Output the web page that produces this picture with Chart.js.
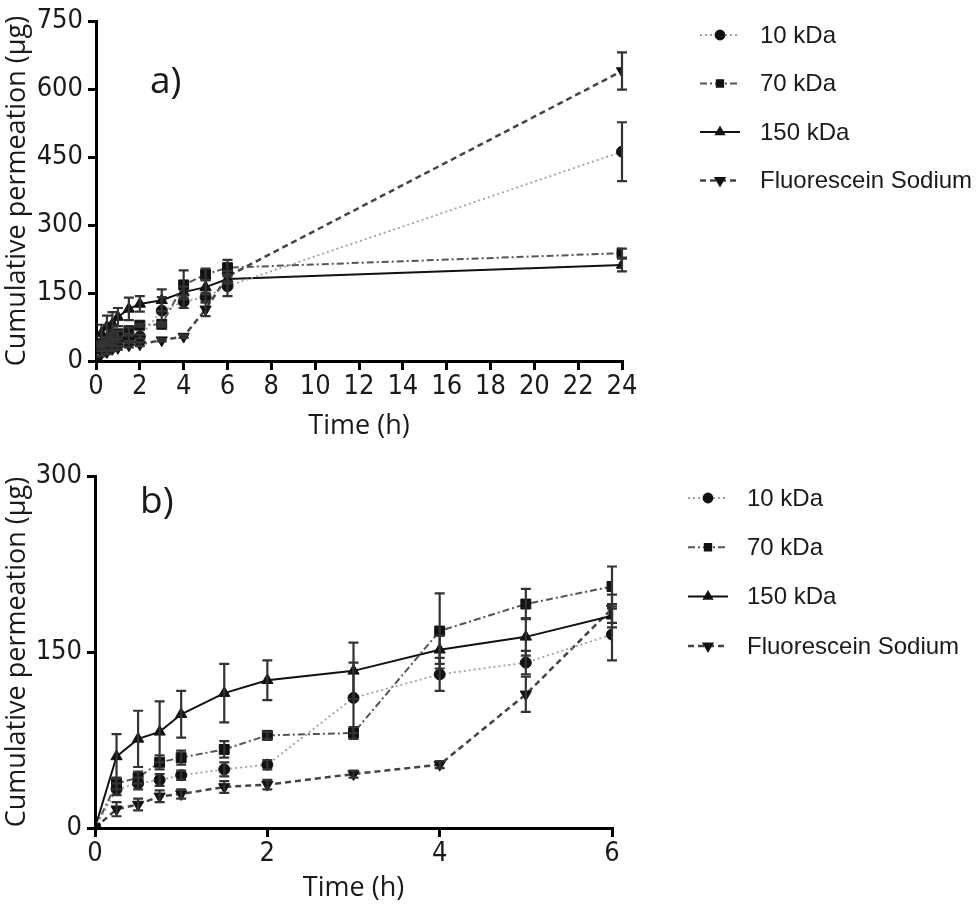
<!DOCTYPE html>
<html>
<head>
<meta charset="utf-8">
<script src="https://cdn.jsdelivr.net/npm/chart.js@4.4.1/dist/chart.umd.min.js"></script>
<style>
  html, body { margin: 0; padding: 0; background: #fff; }
  #wrap { position: relative; width: 980px; height: 913px; background: #fff; }
  canvas { position: absolute; left: 0; }
</style>
</head>
<body>
<div id="wrap">
  <canvas id="ca" width="980" height="455" style="top:0"></canvas>
  <canvas id="cb" width="980" height="458" style="top:455px"></canvas>
</div>
<script>
// ---- data ----
const times    = [0, 0.25, 0.5, 0.75, 1, 1.5, 2, 3, 4, 5, 6, 24];
const kda10    = [0, 33, 38, 41, 45, 50, 54, 111, 131, 141, 165, 462];
const kda10Err = [0, 5, 5, 5, 4, 6, 4, 30, 14, 10, 22, 65];
const kda70    = [0, 38, 43, 56, 60, 67, 79, 81, 168, 191, 206, 238];
const kda70Err = [0, 5, 5, 6, 6, 7, 3, 5, 32, 13, 17, 10];
const kda150   = [0, 61, 76, 82, 97, 115, 126, 134, 152, 163, 181, 212];
const kda150Err= [0, 19, 24, 26, 20, 25, 17, 24, 12, 16, 10, 14];
const fluo     = [0, 16, 20, 27, 29, 35, 37, 46, 54, 114, 187, 640];
const fluoErr  = [0, 6, 5, 5, 4, 5, 4, 3, 3, 15, 12, 41];
const seriesLabels = ['10 kDa', '70 kDa', '150 kDa', 'Fluorescein Sodium'];
const xTicksA = [0, 24, 2];   // min, max, step
const yTicksA = [0, 750, 150];
const xTicksB = [0, 6, 2];
const yTicksB = [0, 300, 150];
const yTitle = 'Cumulative permeation (µg)';
const xTitle = 'Time (h)';

const TICK_FONT = "'Liberation Sans Narrow', 'Arial Narrow', 'DejaVu Sans Condensed', sans-serif";
const TITLE_FONT = "'Open Sans', 'Liberation Sans', sans-serif";
const LEGEND_FONT = "'Liberation Sans', Arial, sans-serif";

function pts(vals, n) {
  const out = [];
  for (let i = 0; i < n; i++) out.push({ x: times[i], y: vals[i] });
  return out;
}

function makeDatasets(n) {
  return [
    { label: seriesLabels[0], data: pts(kda10, n), errors: kda10Err.slice(0, n),
      borderColor: '#a0a0a0', borderWidth: 1.8, borderDash: [2, 3],
      pointStyle: 'circle', pointRadius: 5.5, pointBackgroundColor: '#111', pointBorderColor: '#111', pointBorderWidth: 1 },
    { label: seriesLabels[1], data: pts(kda70, n), errors: kda70Err.slice(0, n),
      borderColor: '#555', borderWidth: 2, borderDash: [7, 3, 2, 3],
      pointStyle: 'rect', pointRadius: 7, pointBackgroundColor: '#111', pointBorderColor: '#111', pointBorderWidth: 1 },
    { label: seriesLabels[2], data: pts(kda150, n), errors: kda150Err.slice(0, n),
      borderColor: '#111', borderWidth: 2,
      pointStyle: 'triangle', pointRadius: 6.5, pointBackgroundColor: '#111', pointBorderColor: '#111', pointBorderWidth: 1 },
    { label: seriesLabels[3], data: pts(fluo, n), errors: fluoErr.slice(0, n),
      borderColor: '#444', borderWidth: 2.5, borderDash: [6, 4],
      pointStyle: 'triangle', pointRotation: 180, pointRadius: 6.5, pointBackgroundColor: '#111', pointBorderColor: '#111', pointBorderWidth: 1 }
  ];
}

// error bars
const errorBars = {
  id: 'errorBars',
  afterDatasetsDraw(chart) {
    const ctx = chart.ctx;
    const ys = chart.scales.y;
    ctx.save();
    ctx.strokeStyle = '#333';
    ctx.lineWidth = 2.2;
    ctx.setLineDash([]);
    chart.data.datasets.forEach((ds, di) => {
      const meta = chart.getDatasetMeta(di);
      ds.data.forEach((p, i) => {
        const e = ds.errors[i];
        if (!e) return;
        const x = meta.data[i].x;
        const y1 = ys.getPixelForValue(p.y + e);
        const y2 = ys.getPixelForValue(p.y - e);
        ctx.beginPath();
        ctx.moveTo(x, y1); ctx.lineTo(x, y2);
        ctx.moveTo(x - 5, y1); ctx.lineTo(x + 5, y1);
        ctx.moveTo(x - 5, y2); ctx.lineTo(x + 5, y2);
        ctx.stroke();
      });
    });
    ctx.restore();
  }
};

// custom legend + panel letter
const sideLegend = {
  id: 'sideLegend',
  afterDraw(chart, args, opts) {
    const ctx = chart.ctx;
    ctx.save();
    chart.data.datasets.forEach((ds, i) => {
      const y = opts.y0 + i * opts.dy;
      ctx.setLineDash(ds.borderDash || []);
      ctx.strokeStyle = ds.borderColor;
      ctx.lineWidth = ds.borderWidth;
      ctx.beginPath();
      ctx.moveTo(opts.x0, y); ctx.lineTo(opts.x1, y);
      ctx.stroke();
      ctx.setLineDash([]);
      ctx.fillStyle = '#111';
      ctx.strokeStyle = '#111';
      Chart.helpers.drawPoint(ctx, { pointStyle: ds.pointStyle, rotation: ds.pointRotation || 0, radius: 4.5, borderWidth: 1 }, (opts.x0 + opts.x1) / 2, y);
      ctx.fillStyle = '#1a1a1a';
      ctx.font = '24px ' + LEGEND_FONT;
      ctx.textBaseline = 'middle';
      ctx.textAlign = 'left';
      ctx.fillText(ds.label, opts.tx, y + 1);
    });
    ctx.fillStyle = '#1a1a1a';
    ctx.font = '37px ' + TITLE_FONT;
    ctx.textBaseline = 'alphabetic';
    ctx.fillText(opts.letter, opts.lx, opts.ly);
    ctx.restore();
  }
};

function makeChart(id, n, xT, yT, cfg) {
  return new Chart(document.getElementById(id), {
    type: 'line',
    data: { datasets: makeDatasets(n) },
    plugins: [errorBars, sideLegend],
    options: {
      responsive: false,
      animation: false,
      devicePixelRatio: 1,
      layout: { padding: cfg.padding },
      plugins: {
        legend: { display: false },
        tooltip: { enabled: false },
        sideLegend: cfg.legend
      },
      scales: {
        x: {
          type: 'linear', min: xT[0], max: xT[1],
          afterFit: s => { s.height = cfg.xh; },
          border: { display: true, color: '#000', width: 3 },
          grid: { drawOnChartArea: false, drawTicks: true, color: '#000', lineWidth: 3, tickLength: 9 },
          ticks: { stepSize: xT[2], autoSkip: false, maxRotation: 0, padding: 1, color: '#1a1a1a',
                   font: { family: TICK_FONT, size: 27 } },
          title: { display: true, text: xTitle, color: '#1a1a1a', padding: { top: 0, bottom: cfg.xtp },
                   font: { family: TITLE_FONT, size: 27 } }
        },
        y: {
          type: 'linear', min: yT[0], max: yT[1],
          afterFit: s => { s.width = cfg.yw; },
          border: { display: true, color: '#000', width: 3 },
          grid: { drawOnChartArea: false, drawTicks: true, color: '#000', lineWidth: 3, tickLength: 8 },
          ticks: { stepSize: yT[2], padding: 5, color: '#1a1a1a',
                   font: { family: TICK_FONT, size: 27 } },
          title: { display: true, text: yTitle, color: '#1a1a1a', padding: { top: 1, bottom: 0 },
                   font: { family: TITLE_FONT, size: 27 } }
        }
      }
    }
  });
}

makeChart('ca', times.length, xTicksA, yTicksA, {
  padding: { left: 0, right: 358, top: 14, bottom: 0 },
  xh: 94, yw: 96, xtp: 12,
  legend: { x0: 700, x1: 740, tx: 760, y0: 35, dy: 48.5, letter: 'a)', lx: 150, ly: 93 }
});
makeChart('cb', 11, xTicksB, yTicksB, {
  padding: { left: 0, right: 368, top: 20, bottom: 0 },
  xh: 85, yw: 95, xtp: 8,
  legend: { x0: 688, x1: 728, tx: 747, y0: 43, dy: 49.3, letter: 'b)', lx: 140, ly: 513 - 455 }
});
</script>
</body>
</html>
